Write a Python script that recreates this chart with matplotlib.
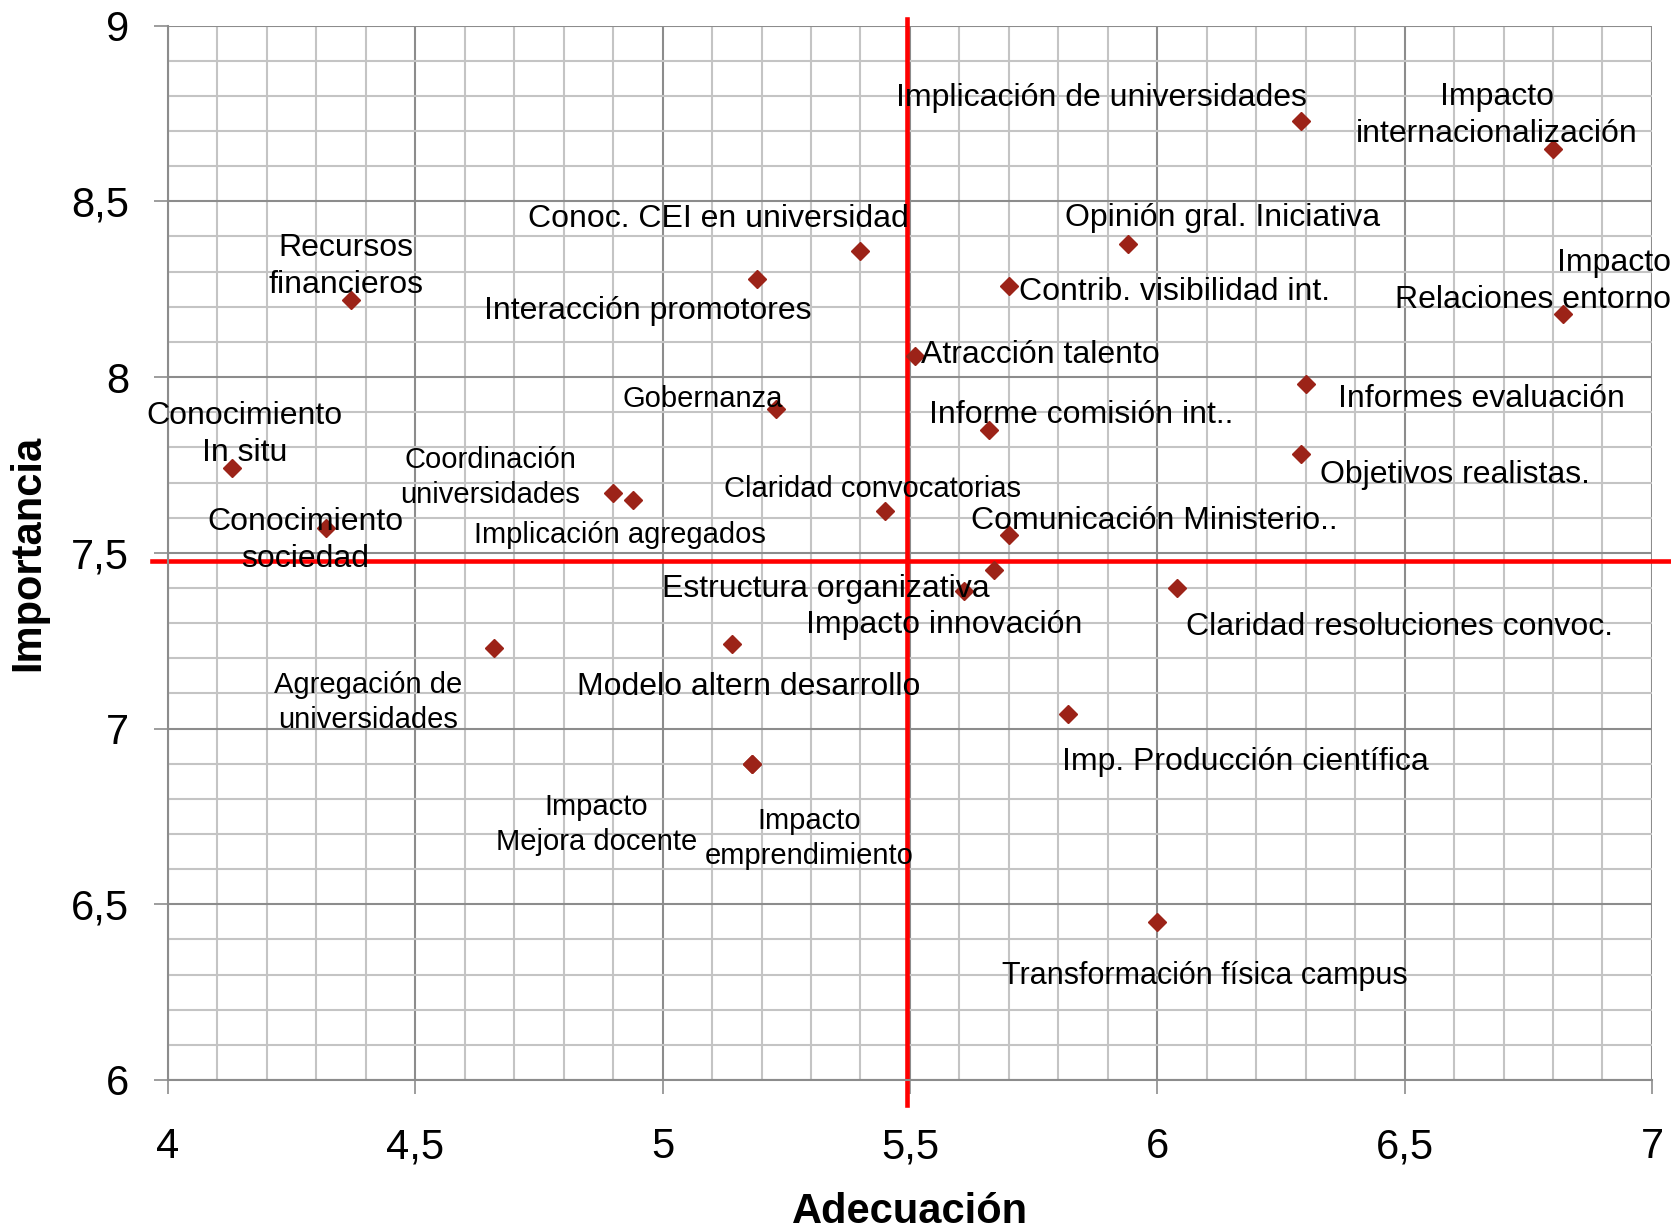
import matplotlib
matplotlib.use("Agg")
import matplotlib.pyplot as plt
from matplotlib.ticker import MultipleLocator, FuncFormatter

plt.rcParams['font.family'] = ['Liberation Sans', 'DejaVu Sans']

# data
labels = [
    "Implicación de universidades", "Impacto\ninternacionalización",
    "Opinión gral. Iniciativa", "Contrib. visibilidad int.",
    "Impacto\nRelaciones entorno", "Atracción talento",
    "Informes evaluación", "Informe comisión int..",
    "Objetivos realistas.", "Claridad convocatorias",
    "Comunicación Ministerio..", "Estructura organizativa",
    "Claridad resoluciones convoc.", "Imp. Producción científica",
    "Transformación física campus", "Conoc. CEI en universidad",
    "Interacción promotores", "Gobernanza",
    "Coordinación\nuniversidades", "Implicación agregados",
    "Recursos\nfinancieros", "Conocimiento\nIn situ",
    "Conocimiento\nsociedad", "Agregación de\nuniversidades",
    "Modelo altern desarrollo", "Impacto\nMejora docente",
    "Impacto\nemprendimiento", "Impacto innovación",
]
adecuacion = [6.29, 6.80, 5.94, 5.70, 6.82, 5.51, 6.30, 5.66, 6.29, 5.45,
              5.70, 5.61, 6.04, 5.82, 6.00, 5.40, 5.19, 5.23, 4.90, 4.94,
              4.37, 4.13, 4.32, 4.66, 5.14, 5.18, 5.18, 5.67]
importancia = [8.73, 8.65, 8.38, 8.26, 8.18, 8.06, 7.98, 7.85, 7.78, 7.62,
               7.55, 7.39, 7.40, 7.04, 6.45, 8.36, 8.28, 7.91, 7.67, 7.65,
               8.22, 7.74, 7.57, 7.23, 7.24, 6.90, 6.90, 7.45]
media_x = 5.494
media_y = 7.476

# label placement: (dx, dy) in pixels, alignment, font size
label_pos = [
    (-199, 23, 'center', 23), (-56, 33, 'center', 23), (95, 26, 'center', 23),
    (10, -6, 'left', 23), (108, 32, 'right', 23), (6, 1, 'left', 23),
    (32, -15, 'left', 23), (92, 15, 'center', 23), (19, -21, 'left', 23),
    (-13, 22, 'center', 21), (145, 14, 'center', 23), (-139, 2, 'center', 23),
    (222, -39, 'center', 23), (177, -48, 'center', 23), (48, -54, 'center', 22),
    (-142, 32, 'center', 23), (-109, -32, 'center', 23), (-74, 10, 'center', 21),
    (-123, 16, 'center', 21), (-13, -35, 'center', 21), (-5, 33, 'center', 23),
    (12, 34, 'center', 23), (-21, -12, 'center', 23), (-126, -55, 'center', 21),
    (17, -43, 'center', 23), (-155, -61, 'center', 21), (58, -75, 'center', 21),
    (-50, -55, 'center', 23),
]

fig = plt.figure(figsize=(16.71, 12.32), dpi=100)
ax = fig.add_axes([0.1005, 0.1234, 0.8881, 0.8558])

ax.set_xlim(4, 7)
ax.set_ylim(6, 9)
ax.xaxis.set_major_locator(MultipleLocator(0.5))
ax.yaxis.set_major_locator(MultipleLocator(0.5))
ax.xaxis.set_minor_locator(MultipleLocator(0.1))
ax.yaxis.set_minor_locator(MultipleLocator(0.1))
fmt = FuncFormatter(lambda v, p: ('%g' % v).replace('.', ','))
ax.xaxis.set_major_formatter(fmt)
ax.yaxis.set_major_formatter(fmt)

ax.grid(which='minor', color='#c4c4c4', linewidth=1.5)
ax.grid(which='major', color='#8c8c8c', linewidth=1.5)
ax.set_axisbelow(True)
for s in ['top', 'right']:
    ax.spines[s].set_visible(False)
for s in ['left', 'bottom']:
    ax.spines[s].set_color('#8c8c8c')
    ax.spines[s].set_linewidth(1.5)

ax.tick_params(which='minor', length=0)
ax.tick_params(axis='x', which='major', length=10, width=1.2, color='#8c8c8c',
               labelsize=30, pad=24)
ax.tick_params(axis='y', which='major', length=10, width=1.2, color='#8c8c8c',
               labelsize=30, pad=18)

ax.axvline(media_x, ymin=-0.024, ymax=1.006, color='#ff0000', lw=3.3, clip_on=False, zorder=2)
ax.axhline(media_y, xmin=-0.011, xmax=1.02, color='#ff0000', lw=3.3, clip_on=False, zorder=2)

ax.plot(adecuacion, importancia, linestyle='none', marker='D', markersize=9.5,
        color='#9c2318', zorder=3)

for lab, x, y, (dx, dy, ha, fs) in zip(labels, adecuacion, importancia, label_pos):
    ax.annotate(lab, (x, y), xytext=(dx, dy), textcoords='offset pixels',
                ha=ha, va='center', multialignment='center' if ha == 'center' else ha,
                fontsize=fs, linespacing=1.32, zorder=4, annotation_clip=False)

ax.set_xlabel('Adecuación', fontsize=30, fontweight='bold', labelpad=18)
ax.set_ylabel('Importancia', fontsize=30, fontweight='bold', labelpad=16)

fig.savefig('out.png', dpi=100)
